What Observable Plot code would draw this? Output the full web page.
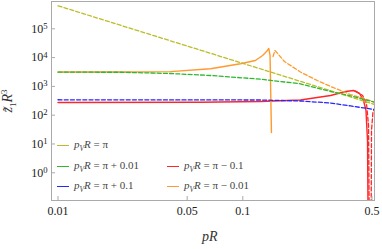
<!DOCTYPE html>
<html><head><meta charset="utf-8">
<script src="https://cdn.jsdelivr.net/npm/d3@7"></script>
<script src="https://cdn.jsdelivr.net/npm/@observablehq/plot@0.6"></script>
<style>
body{margin:0;background:#fff;}
#wrap{position:relative;width:382px;height:249px;font-family:"Liberation Serif",serif;color:#333;}
#wrap svg{position:absolute;left:0;top:0;}
.lab{position:absolute;white-space:nowrap;line-height:1;}
.leg{position:absolute;white-space:nowrap;font-size:11px;line-height:1;color:#444;font-family:"Liberation Serif",serif;}
.sw{position:absolute;height:0;border-top:1.4px solid;}
</style></head><body><div id="wrap"></div>
<script>
// ---- data ----
const xTicks = [0.01, 0.05, 0.1, 0.5];
const xTickLabels = ["0.01", "0.05", "0.1", "0.5"];
const yTicks = [1, 10, 100, 1000, 10000, 100000];
const yTickExps = ["0", "1", "2", "3", "4", "5"];

const seriesLabels = ["π", "π + 0.01", "π + 0.1", "π − 0.1", "π − 0.01"];
const seriesColors = ["#bcbc2a", "#2eb82e", "#2626ff", "#ff2626", "#ff9a2e"];

// p_V R = π (dashed)
const piX = [0.01, 0.1, 0.52];
const piY = [630000, 6300, 233];
// p_V R = π + 0.01 (dashed)
const p01X = [0.01, 0.0218, 0.0406, 0.0669, 0.1247, 0.205, 0.2985, 0.383, 0.516];
const p01Y = [3110, 3100, 2800, 2390, 1780, 1230, 665, 470, 282];
// p_V R = π + 0.1 (dashed)
const p1X = [0.01, 0.1247, 0.205, 0.2985, 0.383, 0.516];
const p1Y = [343, 337, 311, 265, 209, 158];
// p_V R = π − 0.1 (solid)
const m1X = [0.01, 0.059, 0.1247, 0.205, 0.2985, 0.36, 0.397, 0.428, 0.45, 0.464, 0.473, 0.478];
const m1Y = [276, 281, 299, 337, 483, 665, 720, 567, 324, 146, 13, 0.001];
// p_V R = π − 0.1 (dashed, near the pole)
const m1dX = [0.407, 0.445, 0.467, 0.479, 0.485];
const m1dY = [694, 483, 255, 43.5, 0.001];
const m1eX = [0.494, 0.497, 0.506, 0.516];
const m1eY = [0.001, 29, 124, 170];
// p_V R = π − 0.01 (solid)
const m01X = [0.01, 0.0218, 0.0406, 0.0669, 0.0972, 0.117, 0.128, 0.1343, 0.1382, 0.1404, 0.1429];
const m01Y = [3160, 3160, 3250, 4080, 6090, 7930, 11800, 16200, 20700, 11800, 25];
// p_V R = π − 0.01 (dashed, after the pole)
const m01dX = [0.1457, 0.1493, 0.156, 0.168, 0.205, 0.2527, 0.3097, 0.383, 0.516];
const m01dY = [10900, 17600, 12800, 7320, 3160, 1600, 900, 523, 287];

// ---- build tables ----
function rows(xs, ys, key, color) { return xs.map((x, i) => ({x, y: ys[i], key, color})); }
const solid = [
  ...rows(m1X, m1Y, "m1", seriesColors[3]),
  ...rows(m01X, m01Y, "m01", seriesColors[4])
];
const dashed = [
  ...rows(m1dX, m1dY, "m1d", seriesColors[3]),
  ...rows(m1eX, m1eY, "m1e", seriesColors[3]),
  ...rows(m01dX, m01dY, "m01d", seriesColors[4]),
  ...rows(piX, piY, "pi", seriesColors[0]),
  ...rows(p1X, p1Y, "p1", seriesColors[2]),
  ...rows(p01X, p01Y, "p01", seriesColors[1])
];
const xLab = new Map(xTicks.map((t, i) => [t, xTickLabels[i]]));
const yLab = new Map(yTicks.map((t, i) => [t, "10^" + yTickExps[i]]));

const plot = Plot.plot({
  width: 382, height: 249,
  marginLeft: 51, marginRight: 8, marginTop: 1, marginBottom: 49,
  style: {fontFamily: "Liberation Serif, serif", fontSize: "12px", background: "transparent", color: "#333"},
  x: {type: "log", domain: [0.00922, 0.516], axis: null},
  y: {type: "log", domain: [0.109, 887000], axis: null},
  marks: [
    Plot.line(solid, {x: "x", y: "y", z: "key", stroke: "color", strokeWidth: 1.4, clip: true}),
    Plot.line(dashed, {x: "x", y: "y", z: "key", stroke: "color", strokeWidth: 1.3, strokeDasharray: "4,2.2", clip: true}),
    Plot.frame({stroke: "#aaa", strokeWidth: 1}),
    Plot.tickX(xTicks, {x: d => d, stroke: "#aaa", insetTop: 195}),
    Plot.tickY(yTicks, {y: d => d, stroke: "#aaa", insetRight: 319}),
    Plot.axisX({ticks: xTicks, tickSize: 0, tickPadding: 6, tickFormat: d => xLab.get(d), fill: "#222", fontSize: 12, label: null}),
    Plot.axisY({ticks: yTicks, tickSize: 0, tickPadding: 4, tickFormat: d => yLab.get(d), fill: "#222", fontSize: 12, label: null})
  ]
});
const wrap = document.getElementById("wrap");
wrap.appendChild(plot);

// superscripts for y tick labels
plot.querySelectorAll('g[aria-label="y-axis tick label"] text').forEach(t => {
  const [b, e] = t.textContent.split("^");
  t.textContent = "";
  const ns = "http://www.w3.org/2000/svg";
  const t1 = document.createElementNS(ns, "tspan"); t1.textContent = b; t.appendChild(t1);
  const t2 = document.createElementNS(ns, "tspan"); t2.textContent = e;
  t2.setAttribute("dy", "-0.45em"); t2.setAttribute("font-size", "0.72em"); t.appendChild(t2);
});

// axis titles
const xl = document.createElement("div");
xl.className = "lab"; xl.style.fontSize = "14px"; xl.style.left = "202px"; xl.style.top = "230px";
xl.innerHTML = "<i>pR</i>";
wrap.appendChild(xl);
const yl = document.createElement("div");
yl.className = "lab"; yl.style.fontSize = "14px";
yl.style.left = "9px"; yl.style.top = "101px"; yl.style.transform = "translate(-50%,-50%) rotate(-90deg)";
yl.innerHTML = "<i>z&#771;</i><sub style='font-size:9px'>1</sub><i>R</i><sup style='font-size:9px'>3</sup>";
wrap.appendChild(yl);

// legend
const legPos = [[57, 145], [57, 165.5], [57, 186], [167, 165.5], [167, 186]];
seriesLabels.forEach((s, i) => {
  const [lx, ly] = legPos[i];
  const sw = document.createElement("div");
  sw.className = "sw"; sw.style.left = lx + "px"; sw.style.top = ly + "px";
  sw.style.width = "12px"; sw.style.borderColor = seriesColors[i];
  wrap.appendChild(sw);
  const t = document.createElement("div");
  t.className = "leg"; t.style.left = (lx + 17) + "px"; t.style.top = (ly - 6) + "px";
  t.innerHTML = "<i>p</i><sub style='font-size:7.5px'><i>V</i></sub><i>R</i> = " + s;
  wrap.appendChild(t);
});
</script></body></html>
